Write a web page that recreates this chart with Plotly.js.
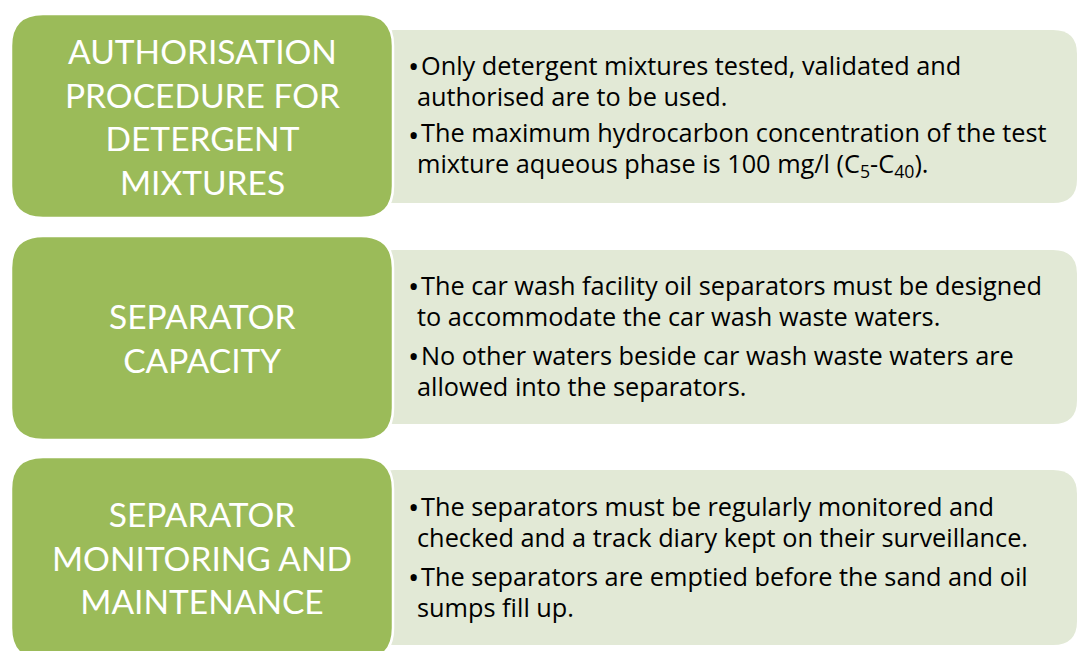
<!DOCTYPE html>
<html>
<head>
<meta charset="utf-8">
<script src="https://cdn.plot.ly/plotly-3.0.1.min.js"></script>
<style>html,body{margin:0;padding:0;background:#fff;}#chart{width:1077px;height:651px;}</style>
</head>
<body>
<div id="chart"></div>
<script>
// ---- content ----
const titles = [
  "AUTHORISATION<br>PROCEDURE FOR<br>DETERGENT<br>MIXTURES",
  "SEPARATOR<br>CAPACITY",
  "SEPARATOR<br>MONITORING AND<br>MAINTENANCE"
];
const bulletsA = [
  "Only detergent mixtures tested, validated and<br>authorised are to be used.",
  "The maximum hydrocarbon concentration of the test<br>mixture aqueous phase is 100 mg/l (C<sub>5</sub>-C<sub>40</sub>)."
];
const bulletsB = [
  "The car wash facility oil separators must be designed<br>to accommodate the car wash waste waters.",
  "No other waters beside car wash waste waters are<br>allowed into the separators."
];
const bulletsC = [
  "The separators must be regularly monitored and<br>checked and a track diary kept on their surveillance.",
  "The separators are emptied before the sand and oil<br>sumps fill up."
];
const bulletGroups = [bulletsA, bulletsB, bulletsC];

// ---- geometry (layout only) ----
const W = 1077, H = 651;
const greenBoxes = [[11, 14, 393, 218], [11, 236, 393, 440], [11, 457, 393, 660]];
const lightBoxes = [[370, 30, 1077, 203], [370, 250, 1077, 424], [370, 470, 1077, 645]];
const bulletFirstLine = [[65, 134], [285, 355], [506, 576]];
const BODY_SIZE = 25.3;
const TITLE_SIZE = 33.5;
const LH = BODY_SIZE * 1.3;
const BODY_FONT = '"Open Sans", "Noto Sans", sans-serif';

function roundRect(x0, y0, x1, y1, r) {
  return `M${x0+r},${y0} L${x1-r},${y0} Q${x1},${y0} ${x1},${y0+r} L${x1},${y1-r} Q${x1},${y1} ${x1-r},${y1} ` +
         `L${x0+r},${y1} Q${x0},${y1} ${x0},${y1-r} L${x0},${y0+r} Q${x0},${y0} ${x0+r},${y0} Z`;
}

const shapes = [];
lightBoxes.forEach(b => shapes.push({type:'path', xref:'x', yref:'y', layer:'below',
  path: roundRect(b[0], b[1], b[2], b[3], 24), fillcolor:'#E2E9D6', line:{width:0}}));
greenBoxes.forEach(b => shapes.push({type:'path', xref:'x', yref:'y', layer:'above',
  path: roundRect(b[0], b[1], b[2], b[3], 32), fillcolor:'#9BBB59', line:{color:'#ffffff', width:2.5}}));

const annotations = [];
titles.forEach((t, i) => {
  const b = greenBoxes[i];
  const cy = (b[1] + Math.min(b[3], 657)) / 2;
  annotations.push({xref:'x', yref:'y', x:(b[0]+b[2])/2, y:cy, text:t, showarrow:false,
    xanchor:'center', yanchor:'middle', align:'center',
    font:{family:'Lato, "Open Sans", sans-serif', size:TITLE_SIZE, color:'#ffffff'}});
});
bulletGroups.forEach((grp, i) => {
  grp.forEach((txt, j) => {
    const y1 = bulletFirstLine[i][j];
    annotations.push({xref:'x', yref:'y', x:420, y:y1, text:'•', showarrow:false, borderpad:0,
      xanchor:'right', yanchor:'middle', font:{family:BODY_FONT, size:30, color:'#000'}});
    annotations.push({xref:'x', yref:'y', x:416, y:y1 + LH/2, text:txt, showarrow:false, borderpad:0,
      xanchor:'left', yanchor:'middle', align:'left',
      font:{family:BODY_FONT, size:BODY_SIZE, color:'#000'}});
  });
});

const layout = {
  width: W, height: H,
  margin: {l:0, r:0, t:0, b:0},
  paper_bgcolor:'#ffffff', plot_bgcolor:'#ffffff',
  xaxis: {range:[0, W], visible:false, fixedrange:true},
  yaxis: {range:[H, 0], visible:false, fixedrange:true},
  showlegend:false,
  shapes: shapes,
  annotations: annotations
};
Plotly.newPlot('chart', [], layout, {staticPlot:true, displayModeBar:false}).then(() => {
  // bullet paragraphs only: indent first line after the bullet, tighten line spacing
  document.querySelectorAll('.annotation-text').forEach(el => {
    const fs = parseFloat(el.style.fontSize || el.getAttribute('font-size') || '0');
    if (Math.abs(fs - BODY_SIZE) > 0.5) return;
    const lines = el.querySelectorAll('tspan.line');
    if (lines.length === 2) {
      const x0 = parseFloat(lines[0].getAttribute('x'));
      lines[0].setAttribute('x', x0 + 4);
      lines[1].setAttribute('dy', '1.22em');
    }
  });
});
</script>
</body>
</html>
